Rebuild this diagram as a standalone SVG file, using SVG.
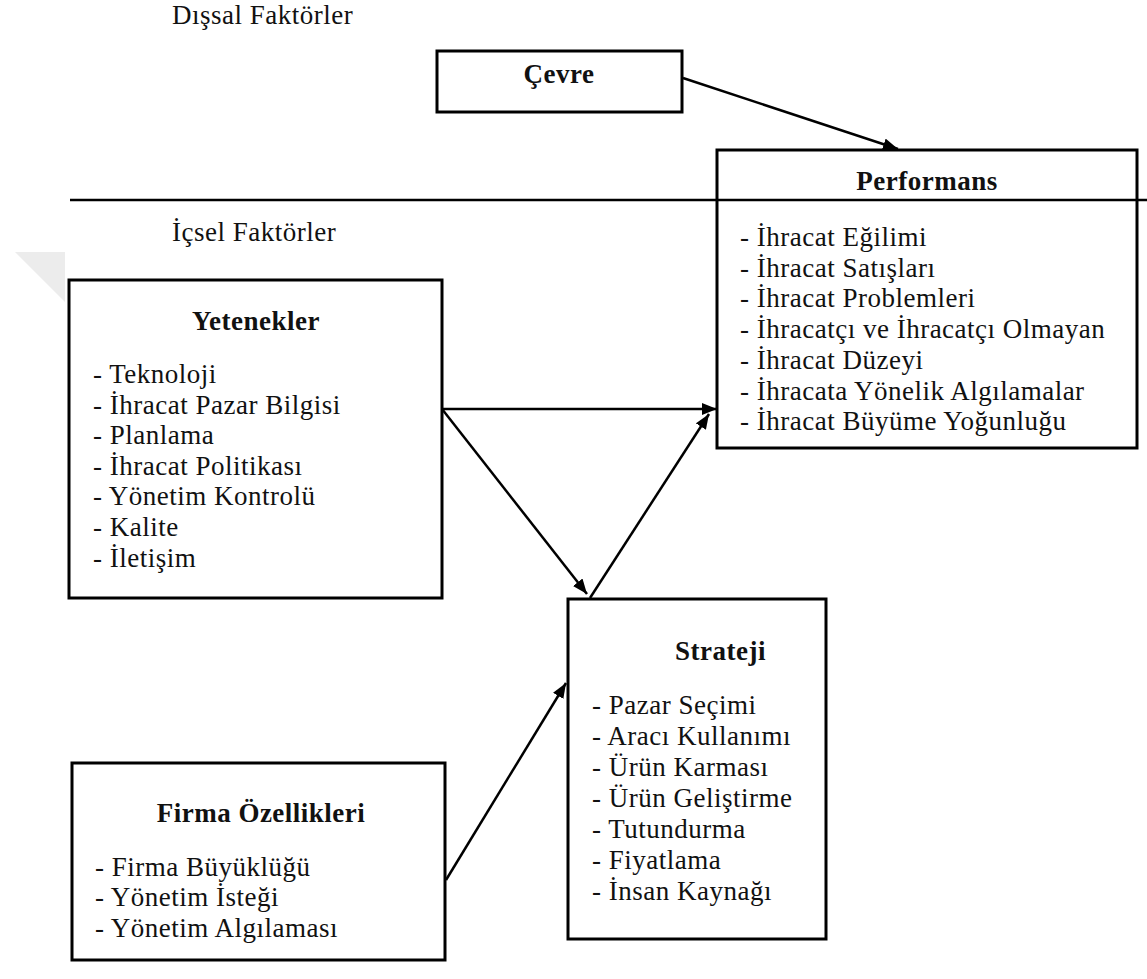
<svg xmlns="http://www.w3.org/2000/svg" width="1147" height="979" viewBox="0 0 1147 979">
  <defs>
    <marker id="arrow" markerUnits="userSpaceOnUse" markerWidth="16" markerHeight="12" refX="15" refY="6" orient="auto">
      <path d="M0,0 L15,6 L0,12 z" fill="#000"/>
    </marker>
    <style>
      .lbl { font-family: 'Liberation Serif', 'DejaVu Serif', serif; font-size: 27px; letter-spacing: 0.5px; fill: #111; }
      .title { font-weight: bold; text-anchor: middle; }
      .box { fill: #fff; stroke: #000; stroke-width: 3; }
      .conn { stroke: #000; stroke-width: 2.5; fill: none; }
      .divider { stroke: #000; stroke-width: 2.5; }
    </style>
  </defs>

  <rect width="1147" height="979" fill="#fff"/>
  <!-- faint corner mark on the left margin -->
  <polygon points="15,252 65,252 65,302" fill="#ececec"/>

  <!-- section labels -->
  <text class="lbl" font-family="Liberation Serif" x="172" y="24">Dışsal Faktörler</text>
  <text class="lbl" font-family="Liberation Serif" x="172" y="241">İçsel Faktörler</text>

  <g id="cevre">
    <rect class="box" x="437" y="51" width="245" height="61"/>
    <text class="lbl title" font-family="Liberation Serif" x="559" y="83">Çevre</text>
  </g>

  <g id="performans">
    <rect class="box" x="717" y="150" width="420" height="298"/>
    <text class="lbl title" font-family="Liberation Serif" x="927" y="190">Performans</text>
    <text class="lbl" font-family="Liberation Serif">
      <tspan x="740" y="246">- İhracat Eğilimi</tspan>
      <tspan x="740" y="276.7">- İhracat Satışları</tspan>
      <tspan x="740" y="307.4">- İhracat Problemleri</tspan>
      <tspan x="740" y="338.1">- İhracatçı ve İhracatçı Olmayan</tspan>
      <tspan x="740" y="368.8">- İhracat Düzeyi</tspan>
      <tspan x="740" y="399.5">- İhracata Yönelik Algılamalar</tspan>
      <tspan x="740" y="430.2">- İhracat Büyüme Yoğunluğu</tspan>
    </text>
  </g>

  <!-- boundary between external and internal factors -->
  <line class="divider" x1="70" y1="200" x2="1147" y2="200"/>

  <g id="yetenekler">
    <rect class="box" x="69" y="280" width="373" height="318"/>
    <text class="lbl title" font-family="Liberation Serif" x="256" y="330">Yetenekler</text>
    <text class="lbl" font-family="Liberation Serif">
      <tspan x="93" y="383">- Teknoloji</tspan>
      <tspan x="93" y="413.6">- İhracat Pazar Bilgisi</tspan>
      <tspan x="93" y="444.2">- Planlama</tspan>
      <tspan x="93" y="474.8">- İhracat Politikası</tspan>
      <tspan x="93" y="505.4">-  Yönetim Kontrolü</tspan>
      <tspan x="93" y="536">- Kalite</tspan>
      <tspan x="93" y="566.6">- İletişim</tspan>
    </text>
  </g>

  <g id="strateji">
    <rect class="box" x="568" y="599" width="258" height="340"/>
    <text class="lbl" font-family="Liberation Serif" x="675" y="660" font-weight="bold">Strateji</text>
    <text class="lbl" font-family="Liberation Serif">
      <tspan x="592" y="714">- Pazar Seçimi</tspan>
      <tspan x="592" y="745">- Aracı Kullanımı</tspan>
      <tspan x="592" y="776">- Ürün Karması</tspan>
      <tspan x="592" y="807">- Ürün Geliştirme</tspan>
      <tspan x="592" y="838">- Tutundurma</tspan>
      <tspan x="592" y="869">- Fiyatlama</tspan>
      <tspan x="592" y="900">- İnsan Kaynağı</tspan>
    </text>
  </g>

  <g id="firma">
    <rect class="box" x="72" y="763" width="373" height="197"/>
    <text class="lbl title" font-family="Liberation Serif" x="261" y="822">Firma Özellikleri</text>
    <text class="lbl" font-family="Liberation Serif">
      <tspan x="95" y="876">- Firma Büyüklüğü</tspan>
      <tspan x="95" y="906">-  Yönetim İsteği</tspan>
      <tspan x="95" y="937">-  Yönetim Algılaması</tspan>
    </text>
  </g>

  <g id="connectors">
    <line class="conn" x1="683" y1="78" x2="898" y2="149" marker-end="url(#arrow)"/>
    <line class="conn" x1="442" y1="409" x2="717" y2="409" marker-end="url(#arrow)"/>
    <line class="conn" x1="442" y1="409" x2="587" y2="594" marker-end="url(#arrow)"/>
    <line class="conn" x1="590" y1="598" x2="709" y2="414" marker-end="url(#arrow)"/>
    <line class="conn" x1="446" y1="880" x2="566" y2="683" marker-end="url(#arrow)"/>
  </g>
</svg>
